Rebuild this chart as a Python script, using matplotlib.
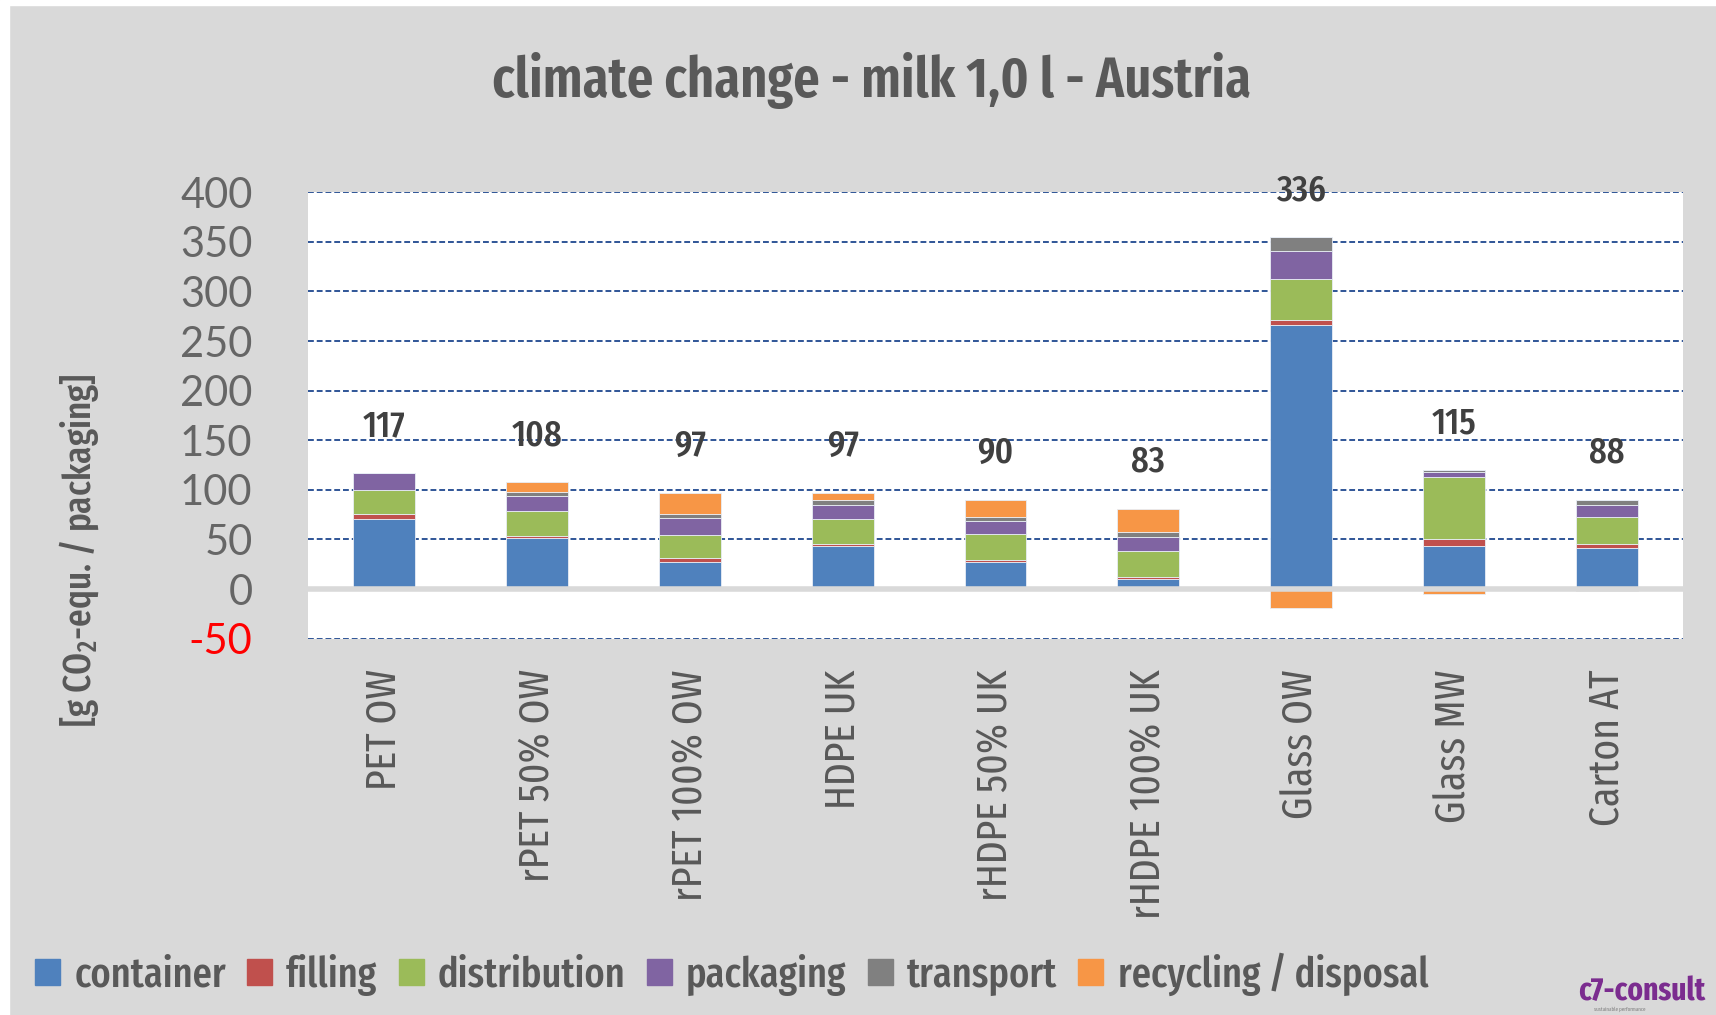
import matplotlib
matplotlib.use('Agg')
import matplotlib.pyplot as plt
from matplotlib.patches import Patch, Rectangle
import numpy as np

# values, g CO2-equ. per packaging
packs = ['PET OW', 'rPET 50% OW', 'rPET 100% OW', 'HDPE UK', 'rHDPE 50% UK',
         'rHDPE 100% UK', 'Glass OW', 'Glass MW', 'Carton AT']
container = [71, 51, 27, 43, 27, 10.5, 266, 43, 41]
filling = [4.5, 2, 4.5, 2, 2, 2, 5, 7.5, 4]
distribution = [24, 26, 23, 26, 26, 26, 42, 62.5, 28]
packaging = [17, 15, 17, 14, 14, 14, 28, 5, 12]
transport = [0.5, 4, 4, 5, 4, 4.5, 13.5, 2, 5]
recycling = [0, 10, 21.5, 7, 17, 24, -19, -5, -2]
totals = [117, 108, 97, 97, 90, 83, 336, 115, 88]
yticks = [-50, 0, 50, 100, 150, 200, 250, 300, 350, 400]

cond = ['Fira Sans Extra Condensed', 'DejaVu Sans']
gray_bg = '#d9d9d9'
txt = '#595959'

fig = plt.figure(figsize=(17.16, 10.15), dpi=100, facecolor=gray_bg)
# thin white strips at the left and top edge, as in the screenshot
fig.patches.append(Rectangle((0, 0), 9 / 1716, 1, transform=fig.transFigure,
                             color='white', zorder=0))
fig.patches.append(Rectangle((0, 1 - 5 / 1015), 1, 5 / 1015, transform=fig.transFigure,
                             color='white', zorder=0))

ax = fig.add_axes([308 / 1716, 1 - 638.6 / 1015, 1375 / 1716, 446.3 / 1015])
ax.set_facecolor('white')

x = np.arange(len(packs))
w = 0.405
series = [('container', container, '#4f81bd'), ('filling', filling, '#c0504d'),
          ('distribution', distribution, '#9bbb59'), ('packaging', packaging, '#8064a2'),
          ('transport', transport, '#808080'), ('recycling / disposal', recycling, '#f79646')]

bottom = np.zeros(len(packs))
for name, vals, col in series:
    vals = np.array(vals, dtype=float)
    pos = np.where(vals > 0, vals, 0)
    neg = np.where(vals < 0, vals, 0)
    ax.bar(x, pos, w, bottom=bottom, color=col, edgecolor='#e8edf5', linewidth=0.6, zorder=2)
    ax.bar(x, neg, w, bottom=0, color=col, edgecolor='#e8edf5', linewidth=0.6, zorder=2)
    bottom += pos

# total labels sit above the positive stack
for i, t in enumerate(totals):
    ax.text(x[i], bottom[i] + 47, str(t), ha='center', va='center', fontsize=27,
            fontweight='medium', color='#404040', family=cond)

ax.set_xlim(-0.5, len(packs) - 0.5)
ax.set_ylim(-50, 400)
ax.set_yticks(yticks)
for y in yticks:
    if y != 0:
        ax.axhline(y, color='#2f5597', lw=1.4, ls=(0, (3, 1.5)), zorder=1)
ax.axhline(0, color=gray_bg, lw=4, zorder=3)
for s in ax.spines.values():
    s.set_visible(False)
ax.tick_params(length=0)
ax.tick_params(axis='y', pad=40)
ax.set_yticklabels([str(v) for v in yticks], fontsize=30, color='#666666',
                   family=['Lato', 'DejaVu Sans'])
ax.get_yticklabels()[0].set_color('#ff0000')
ax.set_xticks(x)
ax.set_xticklabels(packs, rotation=90, fontsize=31, color=txt, va='top', family=cond)
ax.tick_params(axis='x', pad=22)

fig.text(872 / 1716, 1 - 81 / 1015, 'climate change - milk 1,0 l - Austria', ha='center',
         va='center', fontsize=41, fontweight='semibold', color=txt, family=cond)
fig.text(79 / 1716, 1 - 550 / 1015, '[g CO$_\\mathregular{2}$-equ. / packaging]', rotation=90,
         ha='center', va='center', fontsize=27.5, fontweight='medium', color=txt, family=cond)

handles = [Patch(color=c, label=n) for n, v, c in series]
fig.legend(handles=handles, loc='center left', bbox_to_anchor=(35 / 1716, 1 - 974 / 1015),
           ncol=6, frameon=False, handlelength=0.6, handleheight=0.6,
           handletextpad=0.34, columnspacing=0.51, borderaxespad=0, borderpad=0,
           prop={'family': cond, 'size': 30, 'weight': 'medium'}, labelcolor=txt)

fig.text(1642 / 1716, 1 - 991 / 1015, 'c7-consult', ha='center', va='center', fontsize=23,
         fontweight='bold', color='#7b2c8f', family=cond)
fig.text(1620 / 1716, 1 - 1009 / 1015, 'sustainable performance', ha='center', va='center',
         fontsize=4, color='#808080', family=cond)

fig.savefig('out.png', dpi=100, facecolor=fig.get_facecolor())
